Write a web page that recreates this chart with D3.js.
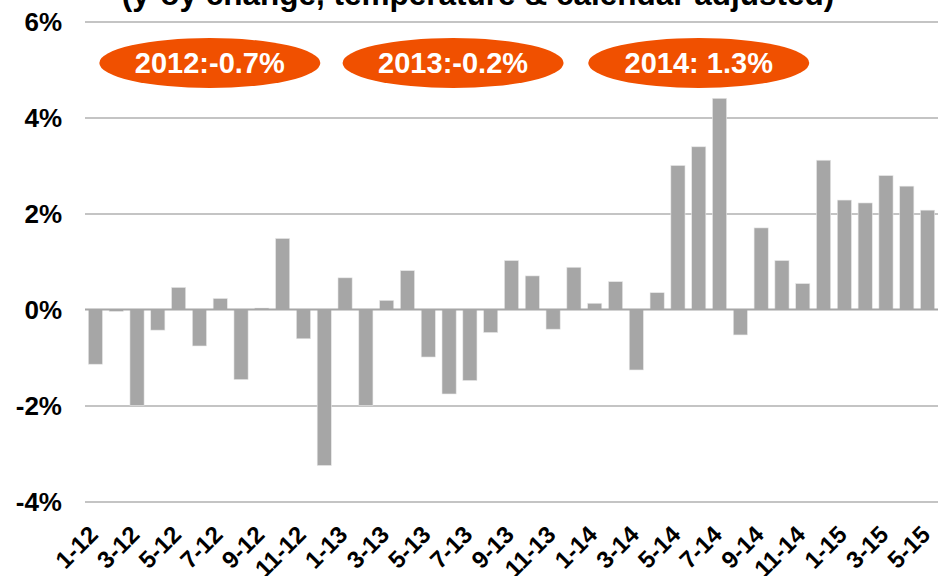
<!DOCTYPE html>
<html>
<head>
<meta charset="utf-8">
<script src="https://cdn.jsdelivr.net/npm/d3@7"></script>
<style>
  body { margin: 0; background: #fff; }
  svg { display: block; font-family: "Liberation Sans", Arial, sans-serif; }
  .grid line { stroke: #c4c4c4; stroke-width: 2; }
  .grid path { display: none; }
  .yaxis text { font-size: 26px; font-weight: bold; fill: #000; }
  .xaxis text { font-size: 24px; font-weight: bold; fill: #000; }
</style>
</head>
<body>
<script>
// monthly labels, 1-12 .. 5-15
const months = [
  "1-12","2-12","3-12","4-12","5-12","6-12","7-12","8-12","9-12","10-12","11-12","12-12",
  "1-13","2-13","3-13","4-13","5-13","6-13","7-13","8-13","9-13","10-13","11-13","12-13",
  "1-14","2-14","3-14","4-14","5-14","6-14","7-14","8-14","9-14","10-14","11-14","12-14",
  "1-15","2-15","3-15","4-15","5-15"
];

// y-o-y change, %
const values = [
  -1.14, -0.04, -2.00, -0.43, 0.46, -0.76, 0.23, -1.46, 0.03, 1.48, -0.61, -3.25,
  0.66, -2.00, 0.19, 0.81, -0.99, -1.76, -1.48, -0.48, 1.02, 0.70, -0.41, 0.88,
  0.13, 0.58, -1.26, 0.35, 3.00, 3.39, 4.40, -0.53, 1.70, 1.02, 0.54, 3.11,
  2.28, 2.22, 2.79, 2.57, 2.07
];

const tickLabels = months.filter((d, i) => i % 2 === 0);
const yTicks = [-4, -2, 0, 2, 4, 6];

const annualLabels = ["2012:-0.7%", "2013:-0.2%", "2014: 1.3%"];
// month the bubble sits over
const annualAnchor = ["6-12", "6-13", "6-14"];

const title = "(y-oy change, temperature & calendar adjusted)";

const W = 940, H = 576;
const margin = { top: 21.5, right: 2, bottom: 74.5, left: 85 };

const svg = d3.select("body").append("svg")
    .attr("width", W)
    .attr("height", H);

const x = d3.scaleBand()
    .domain(months)
    .range([margin.left, W - margin.right])
    .paddingInner(0.32)
    .paddingOuter(0.16);

const y = d3.scaleLinear()
    .domain([-4, 6])
    .range([H - margin.bottom, margin.top]);

const bubbleShift = [10.4, 4, 0];

// gridlines
svg.append("g")
    .attr("class", "grid")
    .attr("transform", "translate(" + margin.left + ",0)")
    .call(d3.axisLeft(y)
        .tickValues(yTicks.filter(d => d !== 0))
        .tickFormat("")
        .tickSize(-(W - margin.right - margin.left)));

// y labels
svg.append("g")
    .attr("class", "yaxis")
    .selectAll("text")
    .data(yTicks)
    .enter().append("text")
    .attr("x", 62)
    .attr("y", d => y(d) + 9)
    .attr("text-anchor", "end")
    .text(d => d + "%");

// bars
svg.selectAll("rect.bar")
    .data(values)
    .enter().append("rect")
    .attr("class", "bar")
    .attr("x", (d, i) => x(months[i]))
    .attr("width", x.bandwidth())
    .attr("y", d => y(Math.max(0, d)))
    .attr("height", d => Math.abs(y(d) - y(0)))
    .attr("fill", "#a6a6a6")
    .attr("stroke", "#e8e8e8")
    .attr("stroke-width", 0.6);

// zero line
svg.append("line")
    .attr("x1", margin.left)
    .attr("x2", W - margin.right)
    .attr("y1", y(0))
    .attr("y2", y(0))
    .attr("stroke", "#a6a6a6")
    .attr("stroke-width", 2);

// x labels, rotated
svg.append("g")
    .attr("class", "xaxis")
    .selectAll("text")
    .data(tickLabels)
    .enter().append("text")
    .attr("text-anchor", "end")
    .attr("transform", d => "translate(" + (x(d) + x.bandwidth() / 2 + 4) + "," + 536 + ") rotate(-45)")
    .text(d => d);

// title (mostly above the frame, as in the source)
svg.append("text")
    .attr("x", 478)
    .attr("y", 5)
    .attr("text-anchor", "middle")
    .attr("font-size", 31.5)
    .attr("font-weight", "bold")
    .text(title);

// annual bubbles
const bubbles = svg.selectAll("g.bubble")
    .data(annualLabels)
    .enter().append("g")
    .attr("class", "bubble")
    .attr("transform", (d, i) => "translate(" + (x(annualAnchor[i]) + x.bandwidth() / 2 + bubbleShift[i]) + ",63)");

bubbles.append("ellipse")
    .attr("rx", 110.5)
    .attr("ry", 25)
    .attr("fill", "#f05000");

bubbles.append("text")
    .attr("text-anchor", "middle")
    .attr("y", 10)
    .attr("font-size", 29)
    .attr("font-weight", "bold")
    .attr("fill", "#fff")
    .text(d => d);
</script>
</body>
</html>
